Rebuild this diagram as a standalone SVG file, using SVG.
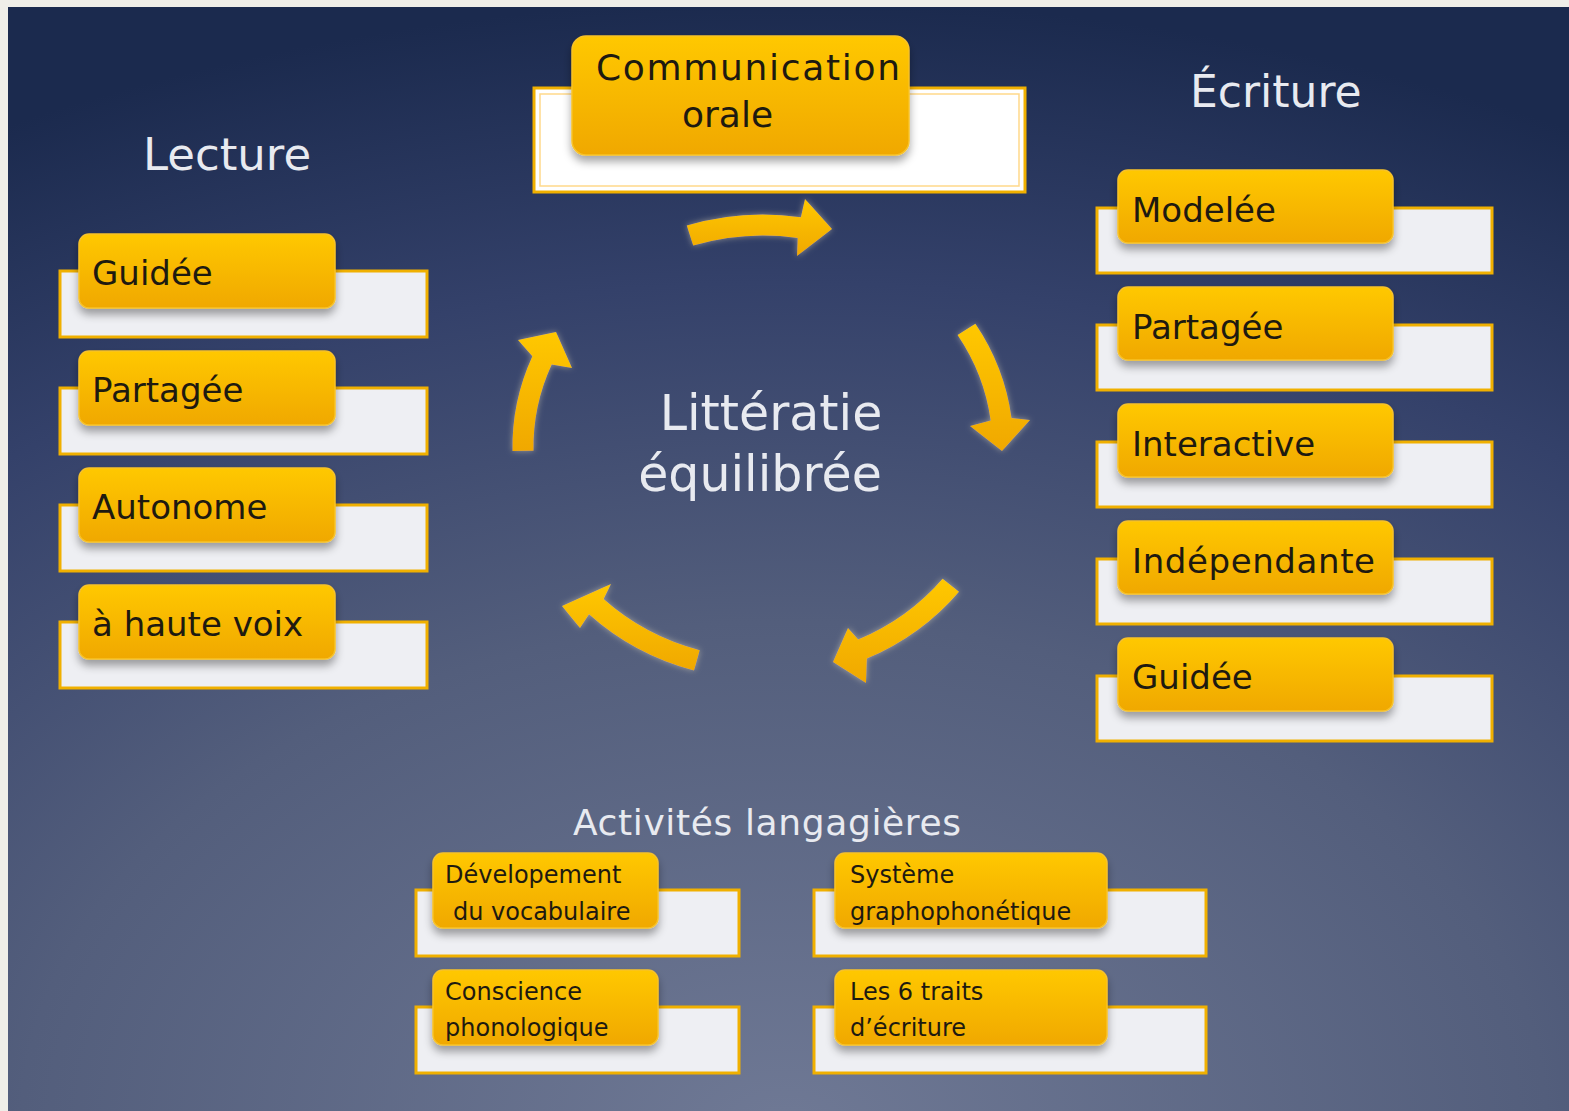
<svg xmlns="http://www.w3.org/2000/svg" width="1569" height="1111" viewBox="0 0 1569 1111">
<defs>
<radialGradient id="bg" gradientUnits="userSpaceOnUse" cx="784" cy="1130" r="1130" gradientTransform="translate(784 1130) scale(1.5 1) translate(-784 -1130)">
<stop offset="0" stop-color="#6f7995"/>
<stop offset="0.45" stop-color="#535e7c"/>
<stop offset="0.75" stop-color="#34416a"/>
<stop offset="1" stop-color="#1b2a4e"/>
</radialGradient>
<linearGradient id="gold" x1="0" y1="0" x2="0" y2="1">
<stop offset="0" stop-color="#ffc800"/>
<stop offset="1" stop-color="#f0a800"/>
</linearGradient>
<filter id="shadow" x="-10%" y="-20%" width="120%" height="150%">
<feDropShadow dx="0" dy="6" stdDeviation="4" flood-color="#000" flood-opacity="0.35"/>
</filter>
<filter id="glow" x="-20%" y="-20%" width="140%" height="140%">
<feGaussianBlur in="SourceAlpha" stdDeviation="3" result="b"/>
<feFlood flood-color="#fff3c8" flood-opacity="0.45"/>
<feComposite in2="b" operator="in" result="g"/>
<feMerge><feMergeNode in="g"/><feMergeNode in="SourceGraphic"/></feMerge>
</filter>
</defs>
<style>
.card{fill:#eeeff3;stroke:#f0b000;stroke-width:3}
.tab{fill:url(#gold);stroke:#f7c22a;stroke-width:1.5;filter:url(#shadow)}
.lbl{font-family:"DejaVu Sans",sans-serif;fill:#1e1a10}
.big{font-size:34px}
.small{font-size:24px}
.head{font-family:"DejaVu Sans",sans-serif;fill:#e8eaf0}
.arrow{fill:url(#gold);filter:url(#glow)}
</style>
<rect x="0" y="0" width="1569" height="1111" fill="#efeee8"/>
<rect x="8" y="7" width="1561" height="1104" fill="url(#bg)"/>

<text class="head" x="143" y="170" font-size="45">Lecture</text>
<text class="head" x="1190" y="107" font-size="44">Écriture</text>
<text class="head" x="767" y="835" font-size="36" text-anchor="middle" textLength="388">Activités langagières</text>
<g id="center">
<text class="head" x="771" y="430" font-size="49" text-anchor="middle">Littératie</text>
<text class="head" x="760" y="491" font-size="49" text-anchor="middle">équilibrée</text>
</g>

<g id="comm">
<rect x="534" y="88" width="491" height="104" fill="#ffffff" stroke="#f0b000" stroke-width="3"/>
<rect x="540" y="94" width="479" height="92" fill="none" stroke="#ffd98a" stroke-width="1.5"/>
<rect class="tab" x="572" y="36" width="337" height="119" rx="14"/>
<text class="lbl" x="596" y="80" font-size="36" textLength="304">Communication</text>
<text class="lbl" x="682" y="127" font-size="36">orale</text>
</g>

<g id="lecture-guidee">
<rect class="card" x="60" y="271" width="367" height="66"/>
<rect class="tab" x="79" y="234" width="256" height="74" rx="10"/>
<text class="lbl big" x="92" y="285">Guidée</text>
</g>
<g id="lecture-partagee">
<rect class="card" x="60" y="388" width="367" height="66"/>
<rect class="tab" x="79" y="351" width="256" height="74" rx="10"/>
<text class="lbl big" x="92" y="402">Partagée</text>
</g>
<g id="lecture-autonome">
<rect class="card" x="60" y="505" width="367" height="66"/>
<rect class="tab" x="79" y="468" width="256" height="74" rx="10"/>
<text class="lbl big" x="92" y="519">Autonome</text>
</g>
<g id="lecture-haute-voix">
<rect class="card" x="60" y="622" width="367" height="66"/>
<rect class="tab" x="79" y="585" width="256" height="74" rx="10"/>
<text class="lbl big" x="92" y="636">à haute voix</text>
</g>

<g id="ecriture-modelee">
<rect class="card" x="1097" y="208" width="395" height="65"/>
<rect class="tab" x="1118" y="170" width="275" height="73" rx="10"/>
<text class="lbl big" x="1132" y="222">Modelée</text>
</g>
<g id="ecriture-partagee">
<rect class="card" x="1097" y="325" width="395" height="65"/>
<rect class="tab" x="1118" y="287" width="275" height="73" rx="10"/>
<text class="lbl big" x="1132" y="339">Partagée</text>
</g>
<g id="ecriture-interactive">
<rect class="card" x="1097" y="442" width="395" height="65"/>
<rect class="tab" x="1118" y="404" width="275" height="73" rx="10"/>
<text class="lbl big" x="1132" y="456">Interactive</text>
</g>
<g id="ecriture-independante">
<rect class="card" x="1097" y="559" width="395" height="65"/>
<rect class="tab" x="1118" y="521" width="275" height="73" rx="10"/>
<text class="lbl big" x="1132" y="573" textLength="243">Indépendante</text>
</g>
<g id="ecriture-guidee">
<rect class="card" x="1097" y="676" width="395" height="65"/>
<rect class="tab" x="1118" y="638" width="275" height="73" rx="10"/>
<text class="lbl big" x="1132" y="689">Guidée</text>
</g>

<g id="act-vocabulaire">
<rect class="card" x="416" y="890" width="323" height="66"/>
<rect class="tab" x="433" y="853" width="225" height="75" rx="10"/>
<text class="lbl small" x="445" y="883">Dévelopement</text>
<text class="lbl small" x="453" y="920">du vocabulaire</text>
</g>
<g id="act-graphophonetique">
<rect class="card" x="814" y="890" width="392" height="66"/>
<rect class="tab" x="835" y="853" width="272" height="75" rx="10"/>
<text class="lbl small" x="850" y="883">Système</text>
<text class="lbl small" x="850" y="920">graphophonétique</text>
</g>
<g id="act-phonologique">
<rect class="card" x="416" y="1007" width="323" height="66"/>
<rect class="tab" x="433" y="970" width="225" height="75" rx="10"/>
<text class="lbl small" x="445" y="1000">Conscience</text>
<text class="lbl small" x="445" y="1036">phonologique</text>
</g>
<g id="act-traits">
<rect class="card" x="814" y="1007" width="392" height="66"/>
<rect class="tab" x="835" y="970" width="272" height="75" rx="10"/>
<text class="lbl small" x="850" y="1000">Les 6 traits</text>
<text class="lbl small" x="850" y="1036">d’écriture</text>
</g>

<g id="connectors">
<path class="arrow" d="M 686.8 225.5 A 250.5 232.5 0 0 1 800.9 217.2 L 805 199 L 832 229 L 797 256 L 797.7 237.9 A 229.5 211.5 0 0 0 693.2 245.5 Z"/>
<path class="arrow" d="M 975.4 323.8 A 250.5 232.5 0 0 1 1011.5 417.9 L 1030 420 L 1002 451 L 970 426 L 990.7 420.5 A 229.5 211.5 0 0 0 957.6 334.9 Z"/>
<path class="arrow" d="M 959 591.7 A 250.5 232.5 0 0 1 866.9 658.6 L 866 683 L 833 662 L 848 628 L 858.2 639.5 A 229.5 211.5 0 0 0 942.6 578.7 Z"/>
<path class="arrow" d="M 694 670.5 A 250.5 232.5 0 0 1 589 614.2 L 580 628 L 562 606 L 611 584 L 603.6 599.1 A 229.5 211.5 0 0 0 699.7 650.3 Z"/>
<path class="arrow" d="M 512.5 451.1 A 250.5 232.5 0 0 1 532.4 356.2 L 518 340 L 556 332 L 572 368 L 551.7 364.4 A 229.5 211.5 0 0 0 533.5 450.7 Z"/>
</g>
</svg>
